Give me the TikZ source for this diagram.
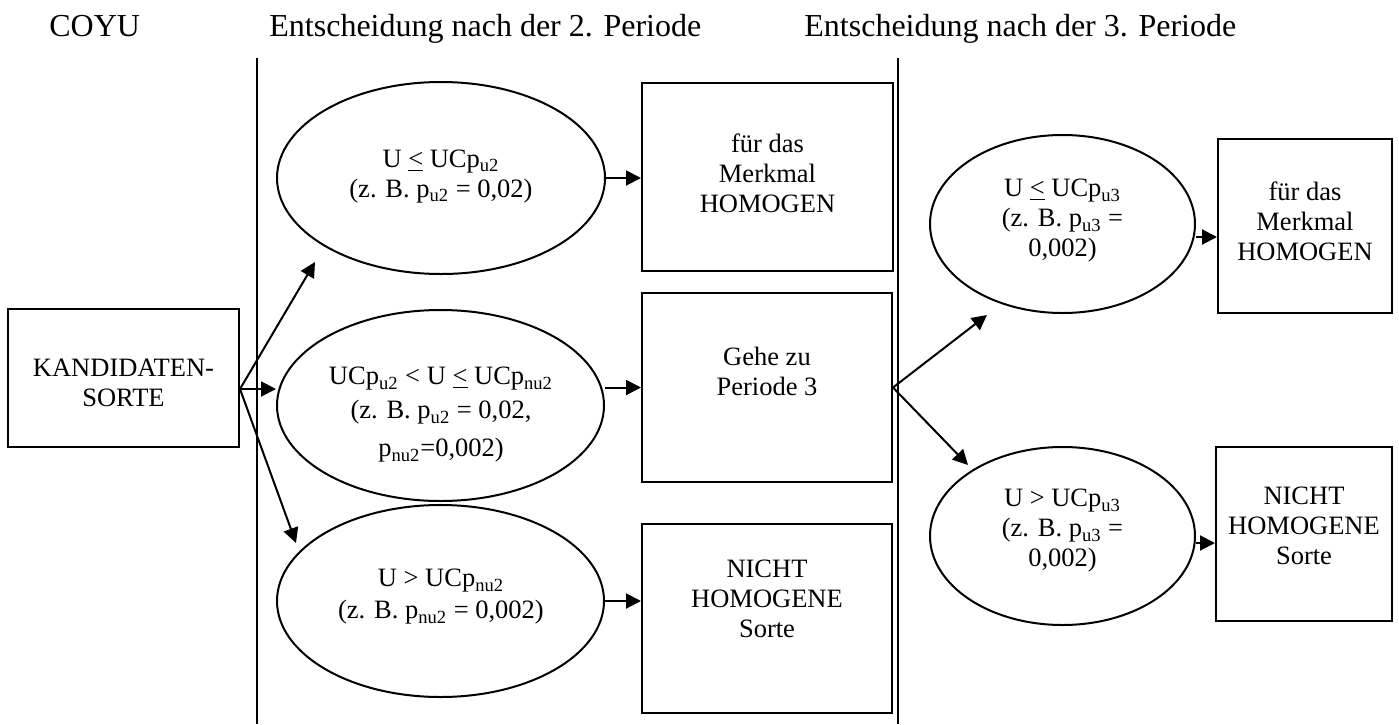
\documentclass[tikz,border=0pt]{standalone}
\usepackage{fontspec}
\setmainfont{Liberation Serif}
\usetikzlibrary{arrows.meta,shapes.geometric,calc}
\begin{document}
\begin{tikzpicture}[x=0.5pt,y=-0.5pt,
  ell/.style={draw,line width=1pt,ellipse,inner sep=0pt},
  box/.style={draw,line width=1pt,rectangle,inner sep=0pt},
  txt/.style={align=center,font=\fontsize{13.25}{15}\selectfont,inner sep=0pt},
  head/.style={font=\fontsize{16}{19}\selectfont,anchor=base west,inner sep=0pt},
  arr/.style={line width=1pt,-{Triangle[length=7.5pt,width=7.5pt]}},
  sep/.style={line width=1pt}]
\useasboundingbox (0,0) rectangle (1399,724);
% headers
\node[head] (h1) at (49,36) {COYU};
\node[head] (h2) at (269,36) {Entscheidung nach der 2. Periode};
\node[head] (h3) at (804,36) {Entscheidung nach der 3. Periode};
% separators
\coordinate (v1t) at (257,58); \coordinate (v1b) at (257,724);
\coordinate (v2t) at (898,58); \coordinate (v2b) at (898,724);
\draw[sep] (v1t) -- (v1b);
\draw[sep] (v2t) -- (v2b);
% candidate
\node[box,minimum width=115.5pt,minimum height=69pt] (k) at (123.5,378) {};
\node[txt] (kt) at (123.5,382.75) {KANDIDATEN-\\SORTE};
% ellipses period 2
\node[ell,minimum width=164pt,minimum height=96pt] (e1) at (441,178) {};
\node[txt] (t1) at (441,176.6) {U \underline{<} UCp\textsubscript{u2}\\(z. B. p\textsubscript{u2} = 0,02)};
\node[ell,minimum width=163.5pt,minimum height=95.5pt] (e2) at (440.5,405.5) {};
\node[txt] (t2) at (441,415) {UCp\textsubscript{u2} < U \underline{<} UCp\textsubscript{nu2}\\[2pt](z. B. p\textsubscript{u2} = 0,02,\\[4pt]p\textsubscript{nu2}=0,002)};
\node[ell,minimum width=163.5pt,minimum height=96pt] (e3) at (440.5,601) {};
\node[txt] (t3) at (441,597) {U > UCp\textsubscript{nu2}\\[1pt](z. B. p\textsubscript{nu2} = 0,002)};
% boxes period 2
\node[box,minimum width=125.5pt,minimum height=94pt] (b1) at (767.5,177) {};
\node[txt] (bt1) at (767.5,173) {für das\\Merkmal\\HOMOGEN};
\node[box,minimum width=125pt,minimum height=94.5pt] (gehe) at (767,387.5) {};
\node[txt] (gt) at (767,371.5) {Gehe zu\\Periode 3};
\node[box,minimum width=125pt,minimum height=94.5pt] (b3) at (767,618.5) {};
\node[txt] (bt3) at (767,598.75) {NICHT\\HOMOGENE\\Sorte};
% period 3
\node[ell,minimum width=132.5pt,minimum height=89pt] (e4) at (1062.5,224) {};
\node[txt] (t4) at (1062.5,221) {U \underline{<} UCp\textsubscript{u3}\\(z. B. p\textsubscript{u3} =\\0,002)};
\node[ell,minimum width=132.5pt,minimum height=89pt] (e5) at (1062.5,536) {};
\node[txt] (t5) at (1062.5,531) {U > UCp\textsubscript{u3}\\(z. B. p\textsubscript{u3} =\\0,002)};
\node[box,minimum width=87pt,minimum height=87pt] (b4) at (1305,226) {};
\node[txt] (bt4) at (1305,221) {für das\\Merkmal\\HOMOGEN};
\node[box,minimum width=88pt,minimum height=87pt] (b5) at (1304,534) {};
\node[txt] (bt5) at (1304,526) {NICHT\\HOMOGENE\\Sorte};
% connectors
\coordinate (ko) at ($(k.east)+(0,11)$);
\coordinate (a1) at (315,262);
\coordinate (a3) at (296,543);
\draw[arr] (ko) -- (a1);
\draw[arr] (ko) -- (ko -| e2.west);
\draw[arr] (ko) -- (a3);
\draw[arr] (e1.east) -- (e1.east -| b1.west);
\draw[arr] (gehe.west -| e2.east) -- (gehe.west);
\draw[arr] (e3.east) -- (e3.east -| b3.west);
\coordinate (a4) at (987,315);
\coordinate (a5) at (968,465);
\draw[arr] (gehe.east) -- (a4);
\draw[arr] (gehe.east) -- (a5);
\coordinate (s4) at ($(e4.east)+(0,13)$);
\coordinate (s5) at ($(e5.east)+(0,7)$);
\draw[arr] (s4) -- (s4 -| b4.west);
\draw[arr] (s5) -- (s5 -| b5.west);
\end{tikzpicture}
\end{document}
